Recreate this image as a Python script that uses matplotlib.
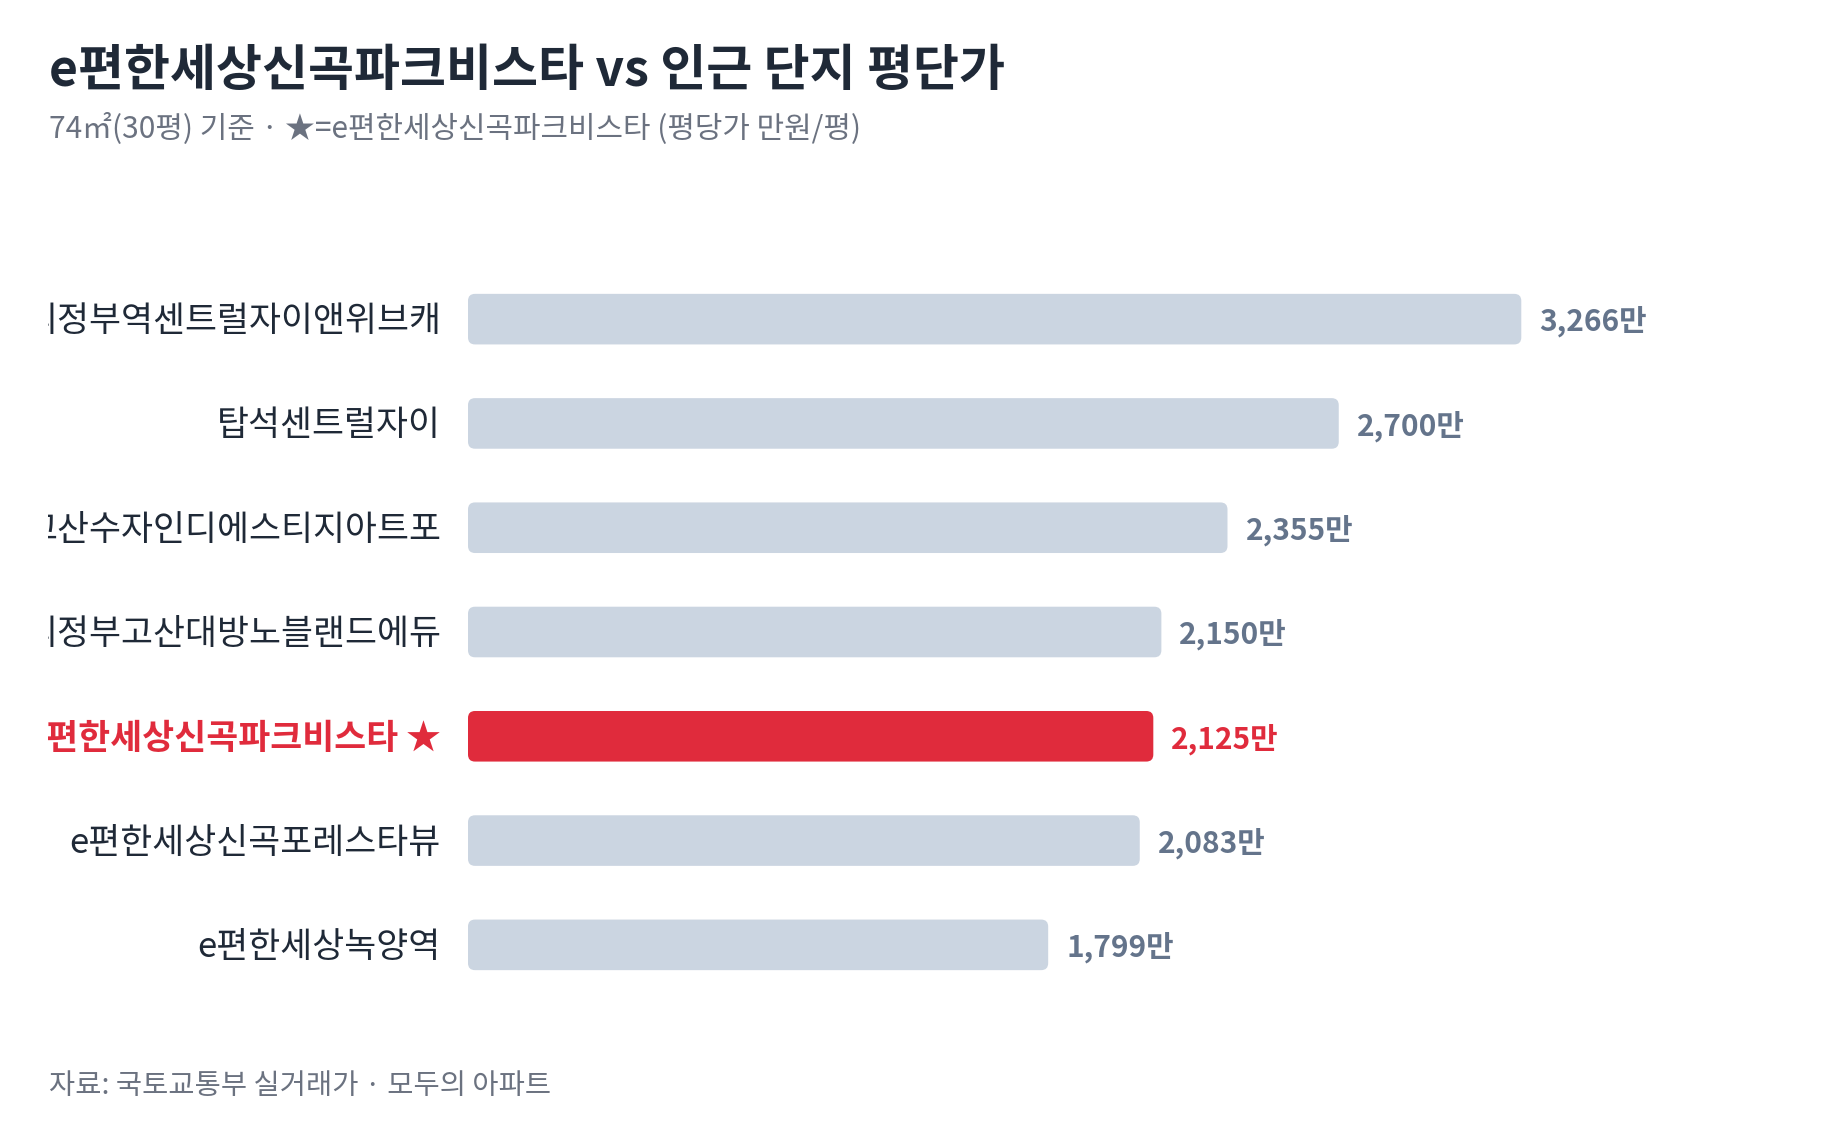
import matplotlib
matplotlib.use("Agg")
import matplotlib.pyplot as plt
from matplotlib.patches import FancyBboxPatch

plt.rcParams['font.family'] = ['Noto Sans CJK KR', 'DejaVu Sans']

# data
names = ["의정부역센트럴자이앤위브캐", "탑석센트럴자이", "고산수자인디에스티지아트포",
         "의정부고산대방노블랜드에듀", "e편한세상신곡파크비스타 ★", "e편한세상신곡포레스타뷰",
         "e편한세상녹양역"]
prices = [3266, 2700, 2355, 2150, 2125, 2083, 1799]
highlight = 4

title = "e편한세상신곡파크비스타 vs 인근 단지 평단가"
subtitle = "74㎡(30평) 기준 · ★=e편한세상신곡파크비스타 (평당가 만원/평)"
source = "자료: 국토교통부 실거래가 · 모두의 아파트"

W, H = 1840, 1126
fig = plt.figure(figsize=(W / 100, H / 100), dpi=100)
fig.patch.set_facecolor("white")

# bar area in pixels
x0, x1 = 468, 1629
ytop, ybot = 267, 997
ax = fig.add_axes([x0 / W, 1 - ybot / H, (x1 - x0) / W, (ybot - ytop) / H])
ax.set_xlim(0, 3600)
ax.set_ylim(len(names) - 0.5, -0.5)
ax.axis("off")

grey = "#cbd5e1"
red = "#e02b3c"
dark = "#1f2937"
slate = "#64748b"

# pixel -> data factors for rounded corners
px_x = 3600 / (x1 - x0)
px_y = len(names) / (ybot - ytop)
r = 7
bh = 0.485
dy = 2.5 * px_y  # small nudge so text sits centred like the reference
for i, v in enumerate(prices):
    c = red if i == highlight else grey
    p = FancyBboxPatch((0, i - bh / 2), v, bh,
                       boxstyle="round,pad=0,rounding_size=%f" % (r * px_x),
                       mutation_aspect=px_y / px_x, fc=c, ec="none")
    ax.add_patch(p)
    ax.text(v + 18 * px_x, i + dy, f"{v:,}만", va="center", ha="left", fontsize=21.5,
            fontweight="bold", color=red if i == highlight else slate)

# label area, clipped on the left
lab = fig.add_axes([48 / W, 1 - ybot / H, (x0 - 48) / W, (ybot - ytop) / H])
lab.set_xlim(0, x0 - 48)
lab.set_ylim(len(names) - 0.5, -0.5)
lab.axis("off")
for i, n in enumerate(names):
    hl = i == highlight
    t = lab.text(x0 - 48 - 27, i + dy, n, ha="right", va="center", fontsize=25,
                 fontweight="bold" if hl else "normal",
                 color=red if hl else dark)
    t.set_clip_box(lab.bbox)
    t.set_clip_on(True)

fig.text(49 / W, 1 - 71 / H, title, fontsize=36, fontweight="bold", color=dark,
         va="center", ha="left")
fig.text(49 / W, 1 - 128 / H, subtitle, fontsize=21.5, color="#6b7280",
         va="center", ha="left")
fig.text(49 / W, 1 - 1086 / H, source, fontsize=20.5, color="#6b7280",
         va="center", ha="left")

fig.savefig("out.png", dpi=100, facecolor="white")
